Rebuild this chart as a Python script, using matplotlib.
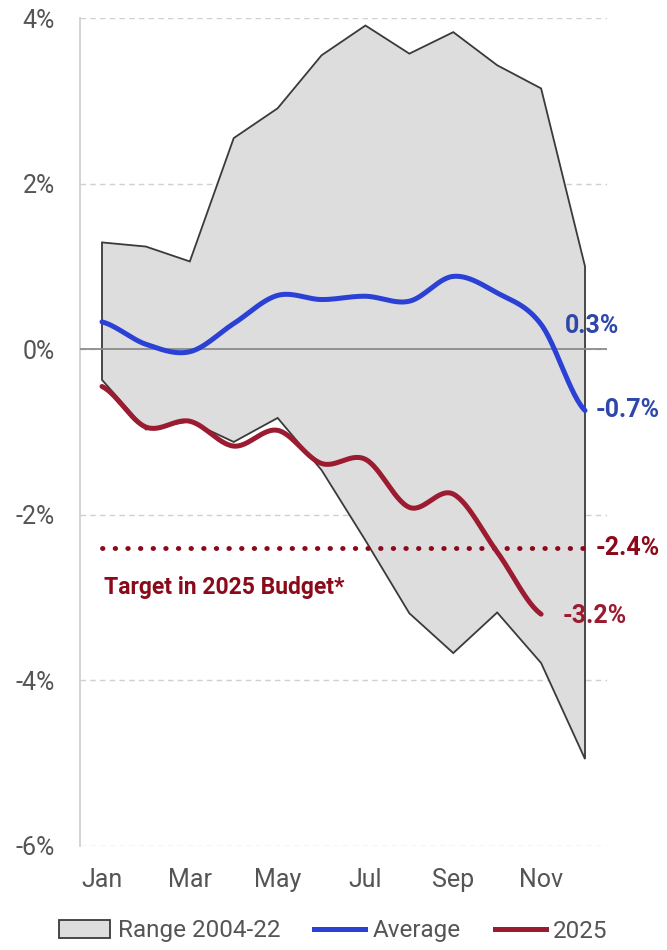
import numpy as np
import matplotlib.pyplot as plt
from matplotlib.patches import Patch
from matplotlib.lines import Line2D

plt.rcParams['font.family'] = ['Roboto', 'DejaVu Sans']

# data (% change, by month)
months = ['Jan', 'Feb', 'Mar', 'Apr', 'May', 'Jun', 'Jul', 'Aug', 'Sep', 'Oct', 'Nov', 'Dec']
range_hi = [1.29, 1.24, 1.06, 2.55, 2.91, 3.55, 3.91, 3.57, 3.83, 3.43, 3.15, 1.00]
range_lo = [-0.37, -0.97, -0.87, -1.12, -0.83, -1.46, -2.31, -3.19, -3.67, -3.18, -3.79, -4.95]
average = [0.33, 0.06, -0.03, 0.31, 0.65, 0.60, 0.64, 0.58, 0.88, 0.68, 0.30, -0.74]
y2025 = [-0.45, -0.94, -0.87, -1.17, -0.98, -1.38, -1.33, -1.91, -1.75, -2.45, -3.20]
target = -2.4

blue = '#2B40D4'
blue_txt = '#2E47A8'
red = '#9B1B30'
red_txt = '#8B0A1A'


def smooth(y, n=30):
    # Excel-like smoothed line (Catmull-Rom segments)
    y = np.asarray(y, dtype=float)
    x = np.arange(len(y), dtype=float)
    xs, ys = [], []
    for i in range(len(y) - 1):
        p0 = y[i - 1] if i > 0 else y[i]
        p3 = y[i + 2] if i + 2 < len(y) else y[i + 1]
        p1, p2 = y[i], y[i + 1]
        t = np.linspace(0, 1, n)
        yy = 0.5 * ((2 * p1) + (-p0 + p2) * t + (2 * p0 - 5 * p1 + 4 * p2 - p3) * t ** 2
                    + (-p0 + 3 * p1 - 3 * p2 + p3) * t ** 3)
        xs.append(x[i] + t)
        ys.append(yy)
    return np.concatenate(xs), np.concatenate(ys)


fig = plt.figure(figsize=(6.67, 9.5), dpi=100)
ax = fig.add_axes([0.12, 0.1095, 0.79, 0.8715])

x = np.arange(len(months))
poly_x = np.concatenate([x, x[::-1]])
poly_y = np.concatenate([range_hi, range_lo[::-1]])
ax.fill(poly_x, poly_y, facecolor='#DDDDDD', edgecolor='#3A3A3A', linewidth=1.3, zorder=2)

ax.axhline(0, color='#8C8C8C', linewidth=1.3, zorder=3)
ax.plot([0, 11], [target, target], linestyle=(0, (0.1, 2.5)), dash_capstyle='round',
        color=red_txt, linewidth=3.5, zorder=4)

xs, ys = smooth(average)
ax.plot(xs, ys, color=blue, linewidth=3.6, solid_capstyle='round', zorder=5)
xs, ys = smooth(y2025)
ax.plot(xs, ys, color=red, linewidth=3.6, solid_capstyle='round', zorder=5)

# value labels
ax.text(10.55, 0.28, '0.3%', color=blue_txt, fontsize=18, fontweight='bold', va='center', ha='left', zorder=6)
ax.text(11.25, -0.74, '-0.7%', color=blue_txt, fontsize=18, fontweight='bold', va='center', ha='left', zorder=6)
ax.text(11.25, target, '-2.4%', color=red_txt, fontsize=18, fontweight='bold', va='center', ha='left', zorder=6)
ax.text(10.5, -3.22, '-3.2%', color=red, fontsize=18, fontweight='bold', va='center', ha='left', zorder=6)
ax.text(0.05, -2.88, 'Target in 2025 Budget*', color=red_txt, fontsize=16.5, fontweight='bold',
        va='center', ha='left', zorder=6)

ax.set_xlim(-0.5, 11.5)
ax.set_ylim(-6, 4)
ax.set_yticks([-6, -4, -2, 0, 2, 4])
ax.set_yticklabels(['-6%', '-4%', '-2%', '0%', '2%', '4%'])
ax.set_xticks(x[::2])
ax.set_xticklabels(months[::2])
ax.tick_params(length=0, labelsize=18, colors='#555555', pad=16)
ax.tick_params(axis='y', pad=18)

ax.grid(axis='y', linestyle=(0, (4, 3)), color='#D0D0D0', linewidth=1.0, zorder=0)
ax.set_axisbelow(True)
for s in ['top', 'right', 'bottom']:
    ax.spines[s].set_visible(False)
ax.spines['left'].set_color('#D0D0D0')
ax.spines['left'].set_linewidth(1.3)

handles = [Patch(facecolor='#DDDDDD', edgecolor='#3A3A3A', linewidth=1.3),
           Line2D([0], [0], color=blue, linewidth=3.6),
           Line2D([0], [0], color=red, linewidth=3.6)]
fig.legend(handles, ['Range 2004-22', 'Average', '2025'], loc='center', bbox_to_anchor=(0.5, 0.02),
           ncol=3, frameon=False, fontsize=17.5, labelcolor='#555555', handlelength=2.1,
           handletextpad=0.3, columnspacing=1.4)

fig.savefig('out.png', dpi=100)
